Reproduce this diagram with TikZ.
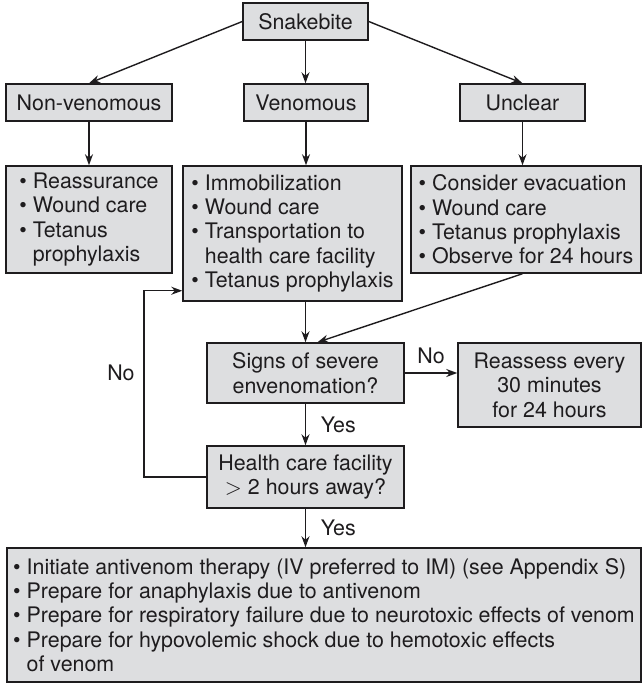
\documentclass[tikz,border=0pt]{standalone}
\usepackage{fontspec}
\setmainfont{TeX Gyre Heros}
\usetikzlibrary{positioning,arrows.meta,calc}
\definecolor{boxgray}{RGB}{221,222,224}
\definecolor{inkgray}{RGB}{30,28,30}
\newcommand{\listpt}{\textbullet\ }
\newcommand{\listin}{\hphantom{\textbullet\ }}
\tikzset{
  box/.style  = {rectangle, draw=inkgray, line width=0.75pt,
                 fill=boxgray, inner sep=0pt, align=center,
                 text=inkgray},
  listbox/.style = {box, align=left},
  arr/.style  = {-{Stealth[length=5.5pt,width=4pt]}, line width=0.7pt,
                 draw=inkgray},
  lab/.style  = {text=inkgray}
}

\begin{document}
\begin{tikzpicture}[x=0.5pt, y=-0.5pt,
  font=\fontsize{10.7}{12.2}\selectfont]
  \useasboundingbox (0,0) rectangle (643,684);

  % top of the tree
  \node[box, minimum width=62.5pt, minimum height=18.5pt] (snake) at (305.5,21.5) {Snakebite};
  \node[box, minimum width=83pt, minimum height=18.5pt] (nonven) at (89,102.5) {Non-venomous};
  \node[box, minimum width=62pt, minimum height=18.5pt] (ven) at (306,102.5) {Venomous};
  \node[box, minimum width=62.5pt, minimum height=18.5pt] (unclear) at (522.5,102.5) {Unclear};

  % first measures
  \node[listbox, minimum width=83pt, minimum height=53.5pt] (act1) at (89,219.5)
    {\listpt Reassurance\\ \listpt Wound care\\ \listpt Tetanus\\ \listin prophylaxis};
  \node[listbox, minimum width=109.5pt, minimum height=67.5pt] (act2) at (292.5,233.5)
    {\listpt Immobilization\\ \listpt Wound care\\ \listpt Transportation to\\
     \listin health care facility\\ \listpt Tetanus prophylaxis};
  \node[listbox, minimum width=115pt, minimum height=53.5pt] (act3) at (526,219.5)
    {\listpt Consider evacuation\\ \listpt Wound care\\ \listpt Tetanus prophylaxis\\
     \listpt Observe for 24 hours};

  % decisions
  \node[box, minimum width=98.5pt, minimum height=30pt] (signs) at (305.5,373)
    {Signs of severe\\ envenomation?};
  \node[box, minimum width=91.5pt, minimum height=42pt] (reass) at (549.5,385)
    {Reassess every\\ 30 minutes\\ for 24 hours};
  \node[box, minimum width=98.5pt, minimum height=31pt] (health) at (305.5,477)
    {Health care facility\\ $>$ 2 hours away?};

  \node[listbox, minimum width=317pt, minimum height=67pt] (final) at (324,615)
    {\listpt Initiate antivenom therapy (IV preferred to IM) (see Appendix S)\\
     \listpt Prepare for anaphylaxis due to antivenom\\
     \listpt Prepare for respiratory failure due to neurotoxic effects of venom\\
     \listpt Prepare for hypovolemic shock due to hemotoxic effects\\
     \listin of venom};

  \coordinate (back) at (144,477);

  % connectors
  \draw[arr] (snake.west) -- (nonven.north);
  \draw[arr] (snake.south) -- (snake.south |- ven.north);
  \draw[arr] (snake.east) -- (unclear.north);
  \draw[arr] (nonven.south) -- (act1.north);
  \draw[arr] (ven.south) -- (ven.south |- act2.north);
  \draw[arr] (unclear.south) -- (unclear.south |- act3.north);
  \draw[arr] (signs.north |- act2.south) -- (signs.north);
  \draw[arr] (unclear.south |- act3.south) -- ([xshift=6pt]signs.north);
  \draw[arr] (signs.east) -- node[lab, above=1pt] {No} (signs.east -| reass.west);
  \draw[arr] (signs.south) -- node[lab, right=4pt] {Yes} (health.north);
  \draw[arr] (health.west) -- (back)
    |- node[lab, pos=0.28, left=1pt] {No} ([yshift=5.5pt]act2.south west);
  \draw[arr] (health.south) -- node[lab, right=4pt] {Yes} (health.south |- final.north);
\end{tikzpicture}
\end{document}
